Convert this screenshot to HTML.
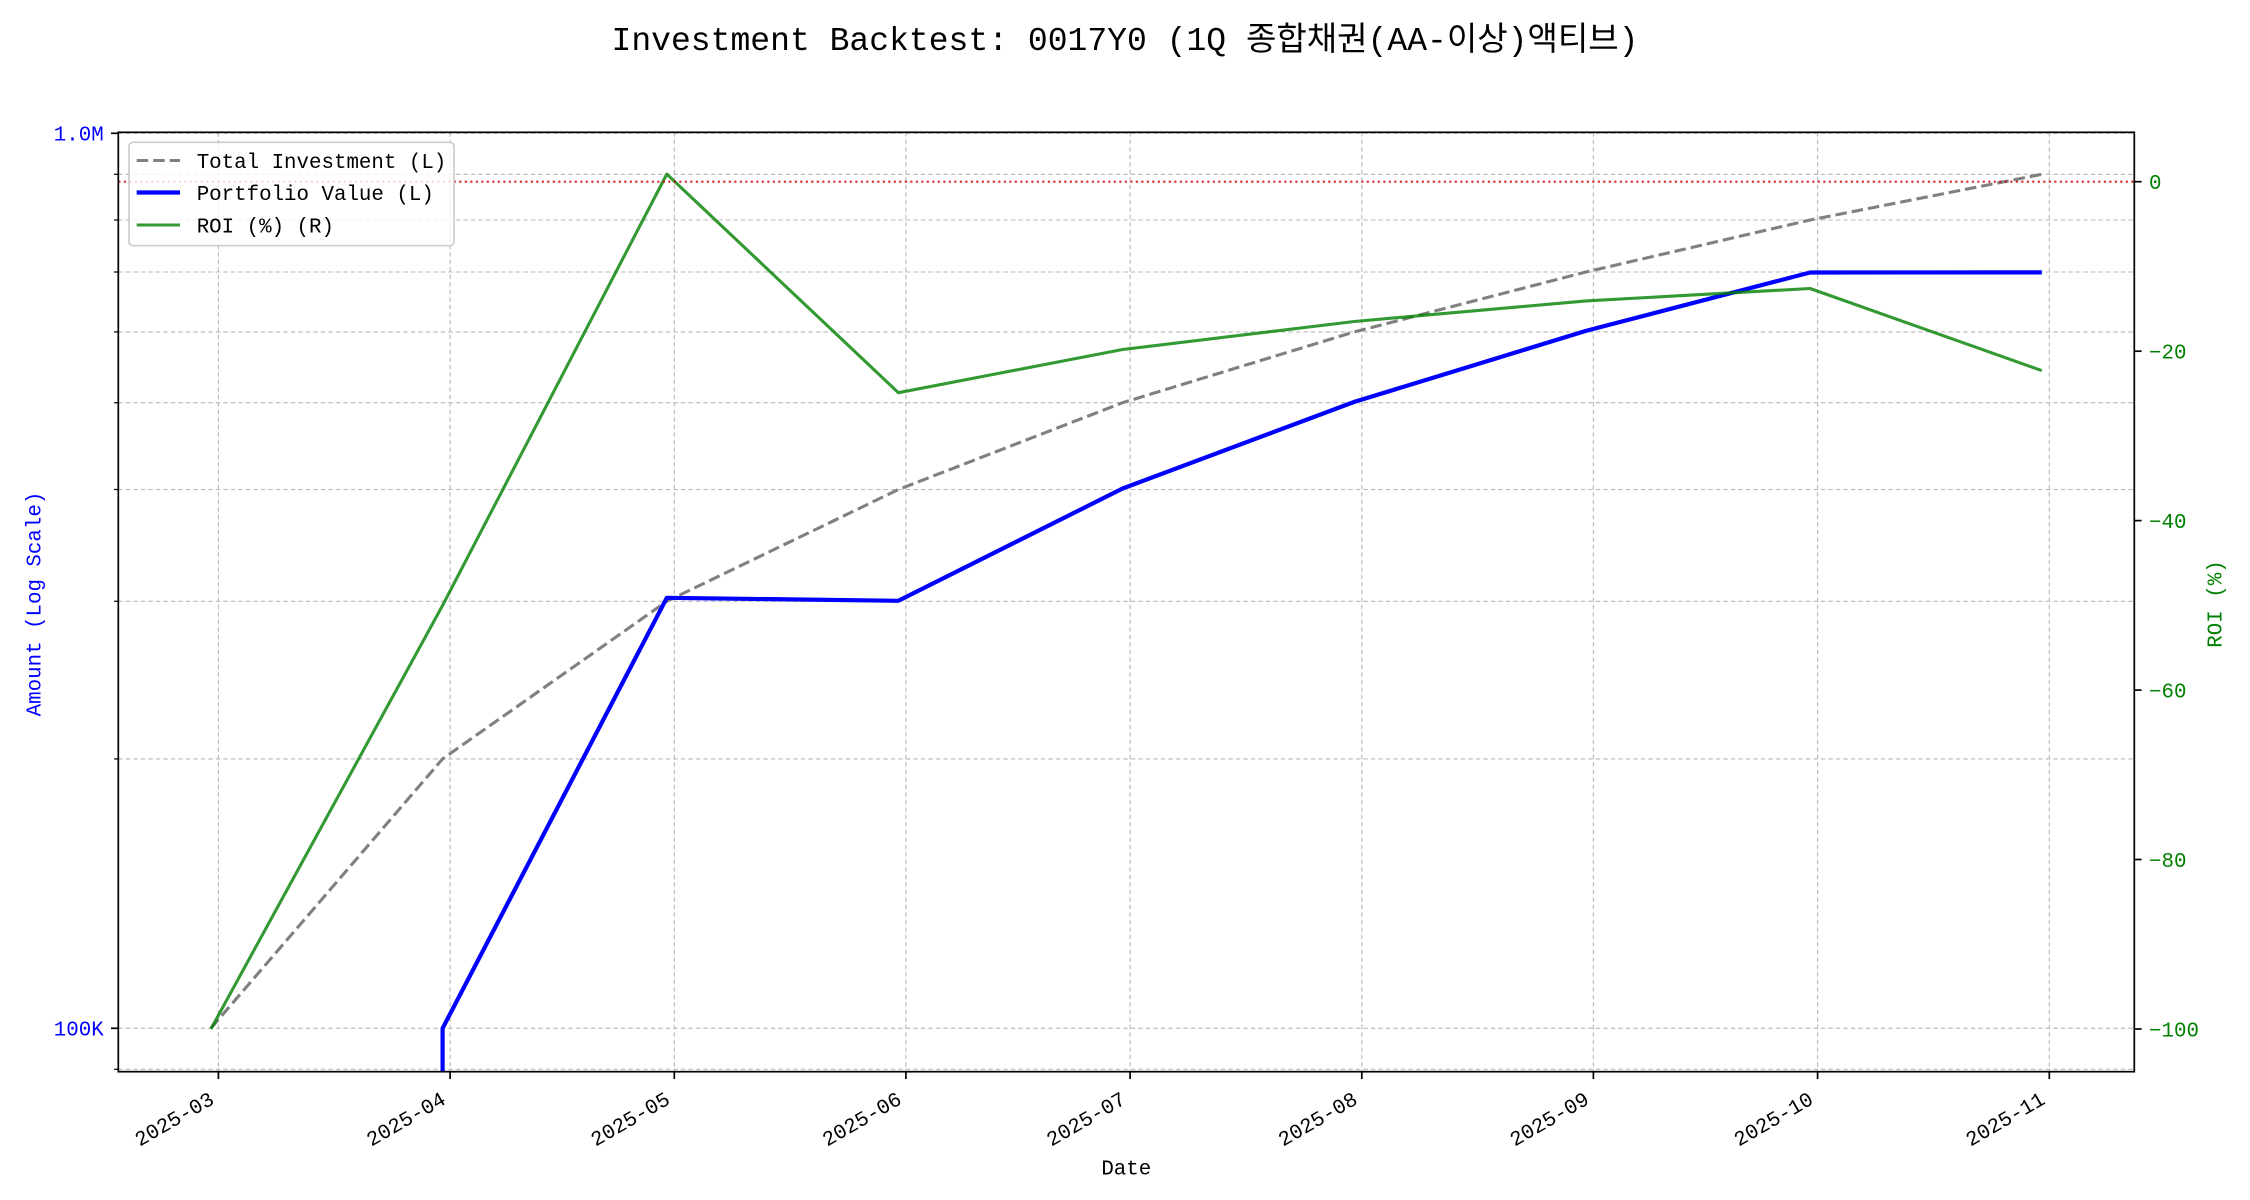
<!DOCTYPE html>
<html>
<head>
<meta charset="utf-8">
<style>
  html, body { margin: 0; padding: 0; background: #ffffff; width: 2250px; height: 1200px; overflow: hidden; }
  svg { display: block; }
  text { font-family: "Liberation Mono", "Noto Sans CJK KR", monospace; }
</style>
</head>
<body>
<svg width="2250" height="1200" viewBox="0 0 2250 1200" xmlns="http://www.w3.org/2000/svg">
  <rect x="0" y="0" width="2250" height="1200" fill="#ffffff"/>
  <defs>
    <clipPath id="ax">
      <rect x="118.3" y="132.3" width="2016" height="939.4"/>
    </clipPath>
  </defs>

  <!-- Title -->
  <text x="1125" y="50" font-size="33" text-anchor="middle" fill="#000" textLength="1027" lengthAdjust="spacingAndGlyphs">Investment Backtest: 0017Y0 (1Q 종합채권(AA-이상)액티브)</text>

  <!-- Grid -->
  <g stroke="#b8b8b8" stroke-width="1.1" stroke-dasharray="4.5,3" fill="none">
    <line x1="218.4" y1="132.3" x2="218.4" y2="1071.7"/>
    <line x1="450.1" y1="132.3" x2="450.1" y2="1071.7"/>
    <line x1="674.3" y1="132.3" x2="674.3" y2="1071.7"/>
    <line x1="905.9" y1="132.3" x2="905.9" y2="1071.7"/>
    <line x1="1130.1" y1="132.3" x2="1130.1" y2="1071.7"/>
    <line x1="1361.8" y1="132.3" x2="1361.8" y2="1071.7"/>
    <line x1="1593.4" y1="132.3" x2="1593.4" y2="1071.7"/>
    <line x1="1817.6" y1="132.3" x2="1817.6" y2="1071.7"/>
    <line x1="2049.3" y1="132.3" x2="2049.3" y2="1071.7"/>
    <line x1="118.3" y1="1069.3" x2="2134.3" y2="1069.3"/>
    <line x1="118.3" y1="1028.3" x2="2134.3" y2="1028.3"/>
    <line x1="118.3" y1="758.9" x2="2134.3" y2="758.9"/>
    <line x1="118.3" y1="601.3" x2="2134.3" y2="601.3"/>
    <line x1="118.3" y1="489.5" x2="2134.3" y2="489.5"/>
    <line x1="118.3" y1="402.7" x2="2134.3" y2="402.7"/>
    <line x1="118.3" y1="331.9" x2="2134.3" y2="331.9"/>
    <line x1="118.3" y1="272.0" x2="2134.3" y2="272.0"/>
    <line x1="118.3" y1="220.0" x2="2134.3" y2="220.0"/>
    <line x1="118.3" y1="174.3" x2="2134.3" y2="174.3"/>
    <line x1="118.3" y1="133.3" x2="2134.3" y2="133.3"/>
  </g>

  <g clip-path="url(#ax)" fill="none" stroke-linejoin="round">
    <polyline stroke="#808080" stroke-width="3.1" stroke-dasharray="11.5,5"
      points="210.9,1028.3 442.6,758.9 666.8,601.3 898.4,489.5 1122.6,402.7 1354.3,331.9 1585.9,272.0 1810.1,220.0 2041.8,174.3"/>
    <polyline stroke="#0000ff" stroke-width="4.2"
      points="442.6,1100 442.6,1028.3 666.8,597.8 898.4,600.8 1122.6,488.5 1354.3,401.9 1585.9,330.9 1810.1,272.5 2041.8,272.4"/>
    <polyline stroke="#008000" stroke-opacity="0.8" stroke-width="3.1"
      points="210.9,1029.0 442.6,605.4 666.8,174.1 898.4,392.7 1122.6,349.5 1354.3,321.5 1585.9,300.9 1810.1,288.5 2041.8,370.6"/>
    <line x1="118.3" y1="181.7" x2="2134.3" y2="181.7" stroke="#d00000" stroke-opacity="0.85" stroke-width="2.1" stroke-dasharray="2.1,3.4"/>
  </g>

  <!-- Spines -->
  <rect x="118.3" y="132.3" width="2016" height="939.4" fill="none" stroke="#000" stroke-width="1.7"/>

  <!-- Left ticks -->
  <g stroke="#000" stroke-width="1.7">
    <line x1="118.3" y1="133.3" x2="111" y2="133.3"/>
    <line x1="118.3" y1="1028.3" x2="111" y2="1028.3"/>
  </g>
  <g stroke="#000" stroke-width="1.25">
    <line x1="118.3" y1="1069.3" x2="114.1" y2="1069.3"/>
    <line x1="118.3" y1="758.9" x2="114.1" y2="758.9"/>
    <line x1="118.3" y1="601.3" x2="114.1" y2="601.3"/>
    <line x1="118.3" y1="489.5" x2="114.1" y2="489.5"/>
    <line x1="118.3" y1="402.7" x2="114.1" y2="402.7"/>
    <line x1="118.3" y1="331.9" x2="114.1" y2="331.9"/>
    <line x1="118.3" y1="272.0" x2="114.1" y2="272.0"/>
    <line x1="118.3" y1="220.0" x2="114.1" y2="220.0"/>
    <line x1="118.3" y1="174.3" x2="114.1" y2="174.3"/>
  </g>
  <g font-size="20.8" fill="#0000ff" text-anchor="end">
    <text x="103.7" y="140.6">1.0M</text>
    <text x="103.7" y="1035.6">100K</text>
  </g>

  <!-- Right ticks -->
  <g stroke="#000" stroke-width="1.7">
    <line x1="2134.3" y1="181.7" x2="2141.6" y2="181.7"/>
    <line x1="2134.3" y1="351.2" x2="2141.6" y2="351.2"/>
    <line x1="2134.3" y1="520.6" x2="2141.6" y2="520.6"/>
    <line x1="2134.3" y1="690.1" x2="2141.6" y2="690.1"/>
    <line x1="2134.3" y1="859.5" x2="2141.6" y2="859.5"/>
    <line x1="2134.3" y1="1029.0" x2="2141.6" y2="1029.0"/>
  </g>
  <g font-size="20.8" fill="#008000" text-anchor="start">
    <text x="2149" y="189.0">0</text>
    <text x="2149" y="358.5">−20</text>
    <text x="2149" y="527.9">−40</text>
    <text x="2149" y="697.4">−60</text>
    <text x="2149" y="866.8">−80</text>
    <text x="2149" y="1036.3">−100</text>
  </g>

  <!-- Bottom ticks -->
  <g stroke="#000" stroke-width="1.7">
    <line x1="218.4" y1="1071.7" x2="218.4" y2="1079"/>
    <line x1="450.1" y1="1071.7" x2="450.1" y2="1079"/>
    <line x1="674.3" y1="1071.7" x2="674.3" y2="1079"/>
    <line x1="905.9" y1="1071.7" x2="905.9" y2="1079"/>
    <line x1="1130.1" y1="1071.7" x2="1130.1" y2="1079"/>
    <line x1="1361.8" y1="1071.7" x2="1361.8" y2="1079"/>
    <line x1="1593.4" y1="1071.7" x2="1593.4" y2="1079"/>
    <line x1="1817.6" y1="1071.7" x2="1817.6" y2="1079"/>
    <line x1="2049.3" y1="1071.7" x2="2049.3" y2="1079"/>
  </g>
  <g font-size="20.8" fill="#000" text-anchor="end">
    <text transform="translate(215.4,1103) rotate(-30)">2025-03</text>
    <text transform="translate(447.1,1103) rotate(-30)">2025-04</text>
    <text transform="translate(671.3,1103) rotate(-30)">2025-05</text>
    <text transform="translate(902.9,1103) rotate(-30)">2025-06</text>
    <text transform="translate(1127.1,1103) rotate(-30)">2025-07</text>
    <text transform="translate(1358.8,1103) rotate(-30)">2025-08</text>
    <text transform="translate(1590.4,1103) rotate(-30)">2025-09</text>
    <text transform="translate(1814.6,1103) rotate(-30)">2025-10</text>
    <text transform="translate(2046.3,1103) rotate(-30)">2025-11</text>
  </g>

  <!-- Axis labels -->
  <text x="1126.3" y="1174.3" font-size="20.8" text-anchor="middle" fill="#000">Date</text>
  <text transform="translate(40.5,604) rotate(-90)" font-size="20.8" text-anchor="middle" fill="#0000ff">Amount (Log Scale)</text>
  <text transform="translate(2221.5,604) rotate(-90)" font-size="20.8" text-anchor="middle" fill="#008000">ROI (%)</text>

  <!-- Legend -->
  <rect x="129" y="142.3" width="325" height="103.4" rx="4" ry="4" fill="#ffffff" fill-opacity="0.8" stroke="#cccccc" stroke-width="1.7"/>
  <line x1="136.7" y1="160.5" x2="180" y2="160.5" stroke="#808080" stroke-width="3.1" stroke-dasharray="11.5,5"/>
  <line x1="136.7" y1="192.5" x2="180" y2="192.5" stroke="#0000ff" stroke-width="4.2"/>
  <line x1="136.7" y1="225" x2="180" y2="225" stroke="#008000" stroke-opacity="0.8" stroke-width="3.1"/>
  <g font-size="20.8" fill="#000">
    <text x="196.7" y="168">Total Investment (L)</text>
    <text x="196.7" y="200">Portfolio Value (L)</text>
    <text x="196.7" y="232.5">ROI (%) (R)</text>
  </g>
</svg>
</body>
</html>
